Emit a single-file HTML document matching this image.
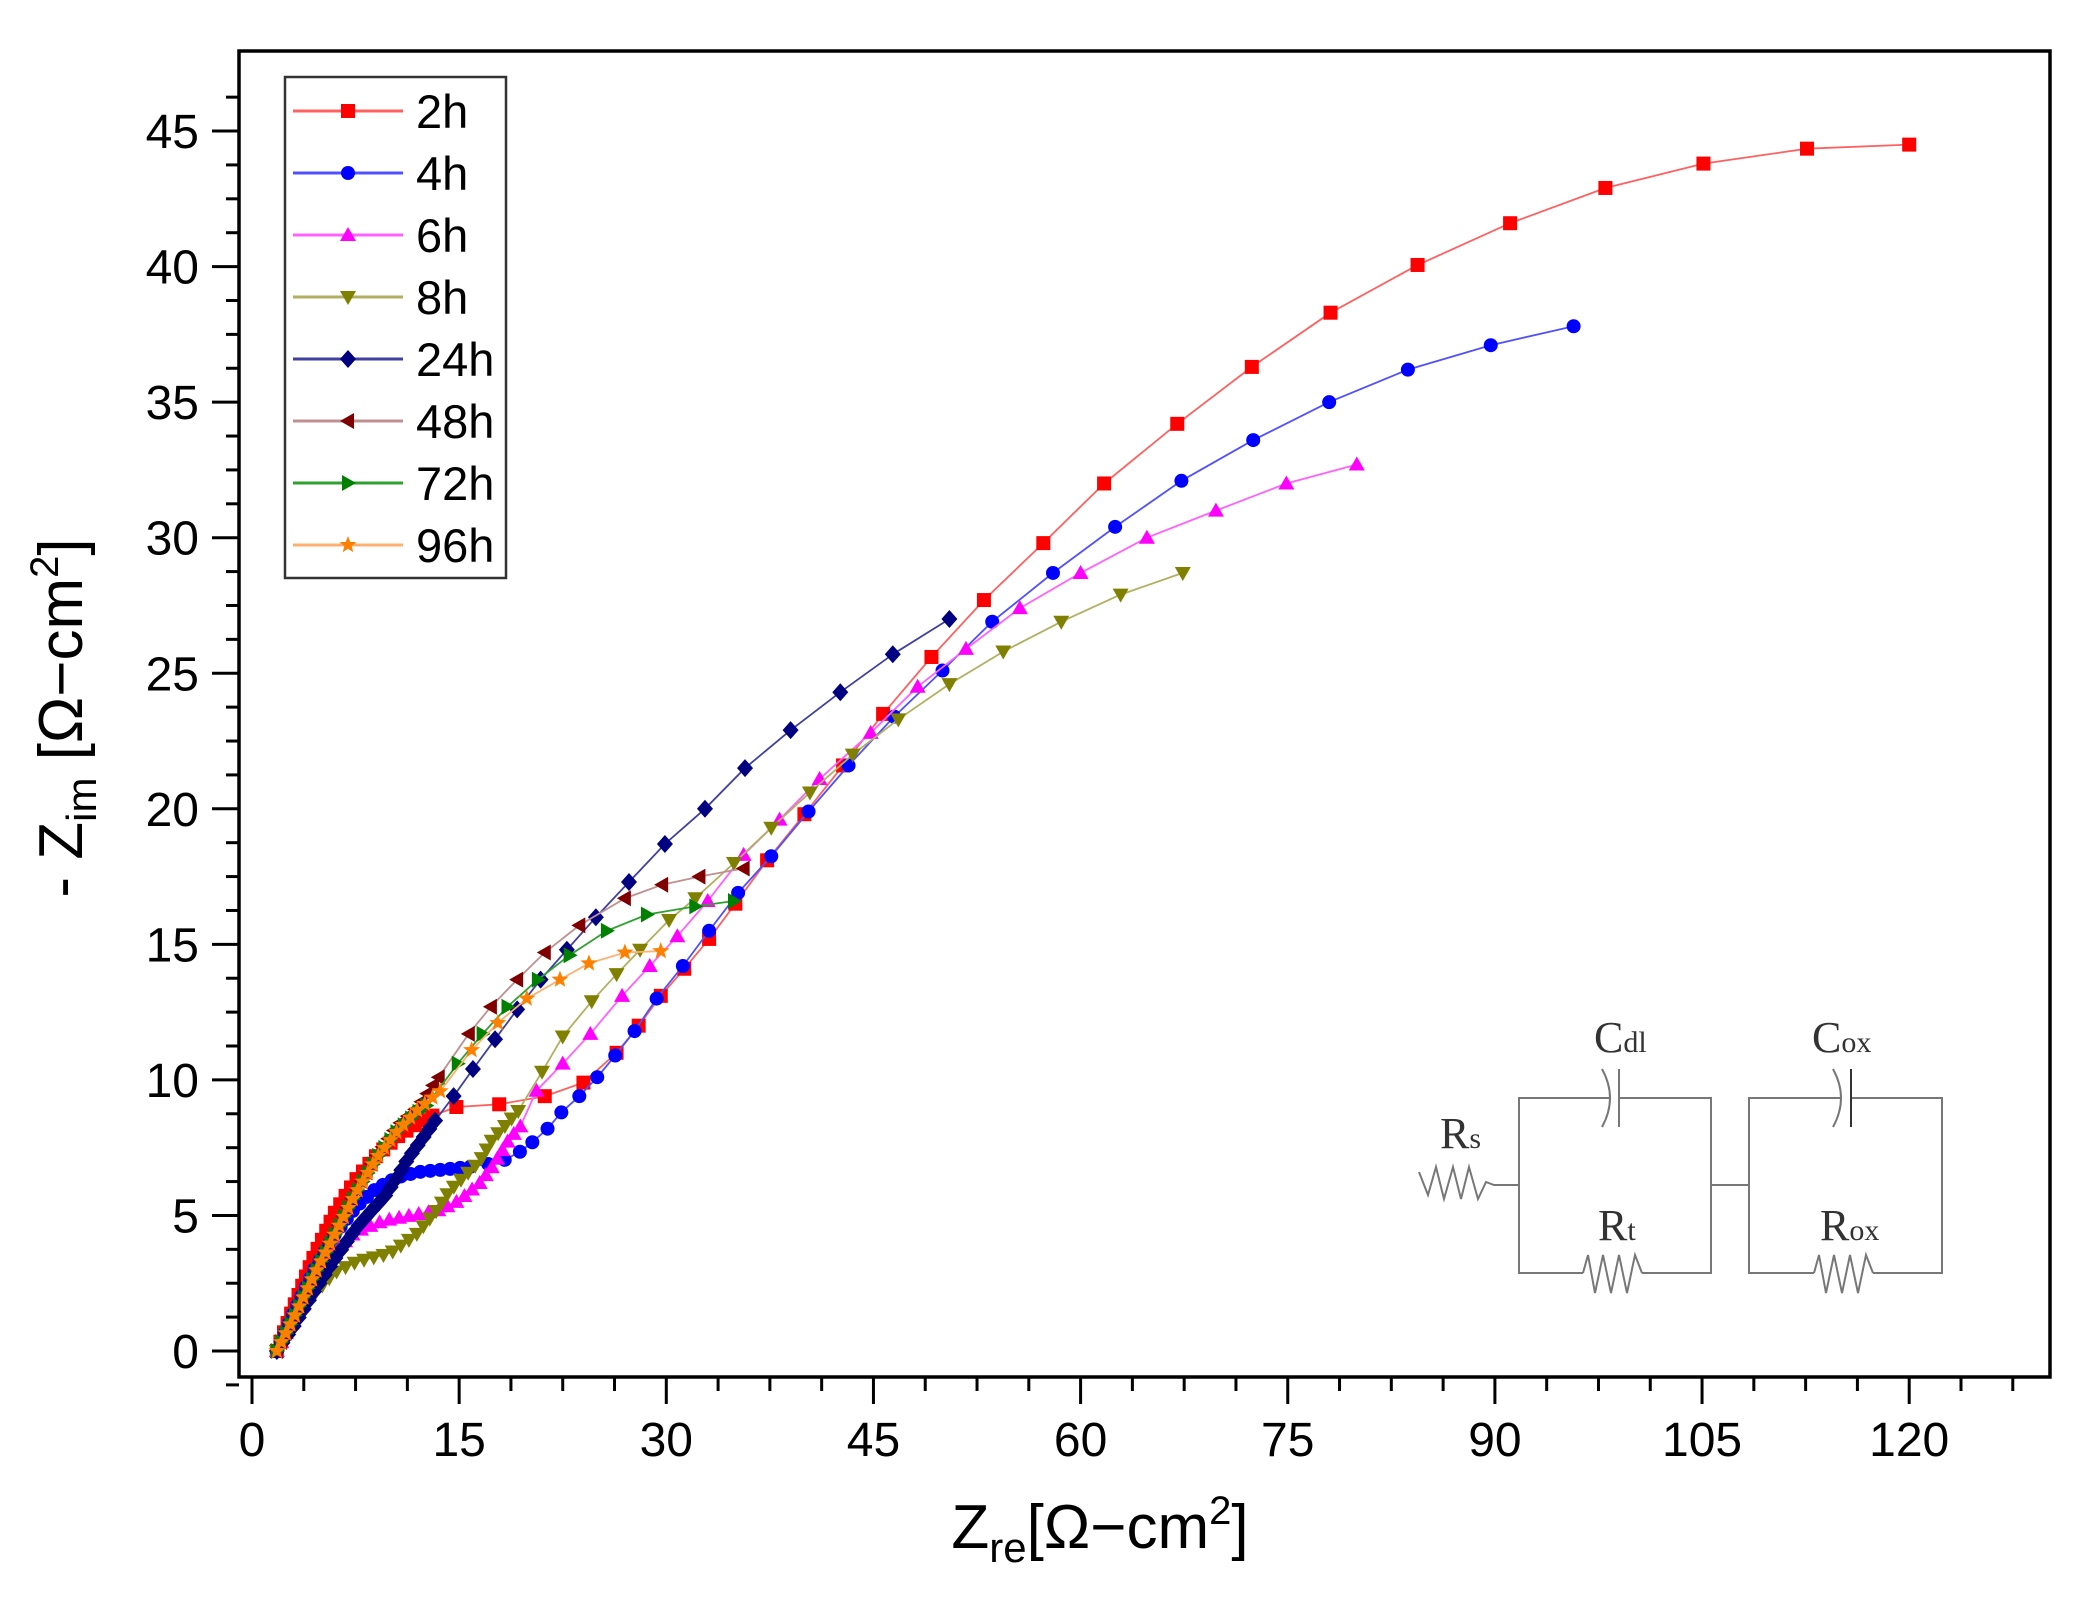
<!DOCTYPE html>
<html><head><meta charset="utf-8"><style>
html,body{margin:0;padding:0;background:#fff;}
svg{display:block;}
text{font-family:"Liberation Sans",sans-serif;}
text.sf{font-family:"Liberation Serif",serif;}
</style></head><body>
<svg id="s" width="2095" height="1610" viewBox="0 0 2095 1610" xmlns="http://www.w3.org/2000/svg">
<rect x="0" y="0" width="2095" height="1610" fill="#fff"/>
<rect x="239" y="51" width="1811" height="1326" fill="none" stroke="#000" stroke-width="3.5"/>
<g id="axes"></g>
<g id="data"></g>
<!-- legend -->
<rect x="285" y="77" width="221" height="501" fill="#fff" stroke="#333" stroke-width="2.5"/>
<g id="leg"></g>
<!-- axis titles -->
<text x="0" y="0" font-size="62" transform="translate(82,718) rotate(-90)" text-anchor="middle">- Z<tspan font-size="42" dy="14">im</tspan><tspan dy="-14"> [Ω−cm</tspan><tspan font-size="40" dy="-24">2</tspan><tspan dy="24">]</tspan></text>
<text x="1100" y="1548" font-size="62" text-anchor="middle">Z<tspan font-size="42" dy="14">re</tspan><tspan dy="-14">[Ω−cm</tspan><tspan font-size="40" dy="-24">2</tspan><tspan dy="24">]</tspan></text>
<!-- circuit -->
<g stroke="#777" stroke-width="2" fill="none">
<polyline points="1419,1172 1428,1195 1436,1167 1444,1199 1453,1167 1461,1199 1469,1167 1478,1199 1486,1182 1494,1185 1519,1185"/>
<polyline points="1609,1098 1519,1098 1519,1273 1583,1273"/>
<polyline points="1619,1098 1711,1098 1711,1273 1642,1273"/>
<polyline points="1583,1273 1588,1255 1595,1293 1603,1255 1611,1293 1619,1255 1627,1293 1635,1255 1642,1273"/>
<path d="M1602,1069 Q1618,1098 1602,1127"/>
<line x1="1619" y1="1069" x2="1619" y2="1127"/>
<line x1="1711" y1="1185" x2="1749" y2="1185"/>
<polyline points="1840,1098 1749,1098 1749,1273 1814,1273"/>
<polyline points="1851,1098 1942,1098 1942,1273 1873,1273"/>
<polyline points="1814,1273 1819,1255 1826,1293 1834,1255 1842,1293 1850,1255 1858,1293 1866,1255 1873,1273"/>
<path d="M1833,1069 Q1849,1098 1833,1127"/>
<line x1="1851" y1="1069" x2="1851" y2="1127" stroke="#333"/>
</g>
<g fill="#333" font-size="44">
<text class="sf" x="1440" y="1148">R<tspan font-size="30">s</tspan></text>
<text class="sf" x="1594" y="1052">C<tspan font-size="30">dl</tspan></text>
<text class="sf" x="1598" y="1240">R<tspan font-size="30">t</tspan></text>
<text class="sf" x="1812" y="1052">C<tspan font-size="30">ox</tspan></text>
<text class="sf" x="1820" y="1240">R<tspan font-size="30">ox</tspan></text>
</g>
</svg>
<script>
var NS="http://www.w3.org/2000/svg";
function X(v){return 252+v*13.81;} function Y(v){return 1351-v*27.11;}
function el(p,t,a,txt){var e=document.createElementNS(NS,t);for(var k in a)e.setAttribute(k,a[k]);if(txt!==undefined)e.textContent=txt;p.appendChild(e);return e;}
var ax=document.getElementById('axes');
for(var i=0;i<=34;i++){var v=i*3.75;var x=X(v);if(x>2050)break;var maj=(i%4==0);
 el(ax,'line',{x1:x,y1:1377,x2:x,y2:maj?1404:1391,stroke:'#000','stroke-width':3});
 if(maj)el(ax,'text',{x:x,y:1456,'font-size':48,'text-anchor':'middle'},String(v));}
for(var i=0;i<=38;i++){var v=-1.25+i*1.25;var y=Y(v);if(y<55)break;var maj=(Math.abs(v%5)<1e-6);
 el(ax,'line',{x1:maj?212:226,y1:y,x2:239,y2:y,stroke:'#000','stroke-width':3});
 if(maj)el(ax,'text',{x:199,y:y+17,'font-size':48,'text-anchor':'end'},String(v));}
var S=[
{n:'2h',c:'#ff0000',l:'#ff6060',m:'sq',d:[[1.8,0],[3,1.6],[4.5,3.5],[6,5.1],[7.5,6.3],[9,7.2],[10.5,7.9],[12,8.4],[13.5,8.8]],s:[[14.8,9],[17.9,9.1],[21.2,9.4],[24,9.9],[26.4,11],[28,12],[29.6,13.1],[31.3,14.1],[33.1,15.2],[35,16.5],[37.3,18.1],[40,19.8],[42.8,21.6],[45.7,23.5],[49.2,25.6],[53,27.7],[57.3,29.8],[61.7,32],[67,34.2],[72.4,36.3],[78.1,38.3],[84.4,40.06],[91.1,41.6],[98,42.9],[105.1,43.8],[112.6,44.35],[120,44.5]]},
{n:'4h',c:'#0000ff',l:'#5050ff',m:'ci',d:[[1.8,0],[3,1.4],[4.5,3],[6,4.3],[7.5,5.3],[9,6],[10.5,6.4],[12,6.6],[14,6.7],[16,6.8]],s:[[17.1,6.9],[18.3,7.05],[19.4,7.35],[20.3,7.7],[21.4,8.2],[22.4,8.8],[23.7,9.4],[25,10.1],[26.3,10.9],[27.7,11.8],[29.3,13],[31.2,14.2],[33.1,15.5],[35.2,16.9],[37.6,18.25],[40.3,19.9],[43.2,21.6],[46.5,23.4],[50,25.1],[53.6,26.9],[58,28.7],[62.5,30.4],[67.3,32.1],[72.5,33.6],[78,35],[83.7,36.2],[89.7,37.1],[95.7,37.8]]},
{n:'6h',c:'#ff00ff',l:'#ff60ff',m:'tu',d:[[1.8,0],[3,1.2],[4.5,2.6],[6,3.7],[7.5,4.4],[9.5,4.8],[11.5,5],[13.6,5.2],[15,5.55],[16.5,6.2],[17.4,6.8],[18.6,7.8],[19.8,8.5]],s:[[20.6,9.6],[22.5,10.6],[24.5,11.7],[26.8,13.1],[28.8,14.2],[30.8,15.3],[33,16.6],[35.6,18.3],[38.2,19.6],[41.1,21.1],[44.8,22.8],[48.2,24.5],[51.7,25.9],[55.6,27.4],[60,28.7],[64.8,30],[69.8,31],[74.9,32],[80,32.7]]},
{n:'8h',c:'#808000',l:'#b0b060',m:'td',d:[[1.8,0],[3,1],[4.5,2.1],[6,2.9],[7.6,3.3],[10,3.6],[11.9,4.3],[13.4,5.2],[14.3,5.9],[15.5,6.5],[16.5,7],[17.4,7.8],[18.5,8.4],[19.7,9.1]],s:[[21,10.3],[22.5,11.6],[24.6,12.9],[26.4,13.9],[28.1,14.8],[30.2,15.9],[32.1,16.7],[34.9,18],[37.6,19.3],[40.4,20.6],[43.5,22],[46.8,23.3],[50.5,24.6],[54.4,25.8],[58.6,26.9],[62.9,27.9],[67.4,28.7]]},
{n:'24h',c:'#000080',l:'#4040a0',m:'di',d:[[1.8,0],[3,0.9],[4.5,2.2],[6,3.4],[7.5,4.5],[8.7,5.2],[9.6,5.7],[10.5,6.4],[11.3,7.1],[12.3,7.8],[13.4,8.6]],s:[[14.6,9.4],[16,10.4],[17.6,11.5],[19.2,12.6],[20.9,13.7],[22.8,14.8],[24.9,16],[27.3,17.3],[29.9,18.7],[32.8,20],[35.7,21.5],[39,22.9],[42.6,24.3],[46.4,25.7],[50.5,27]]},
{n:'48h',c:'#800000',l:'#c09090',m:'tl',d:[[1.8,0],[3,1.3],[4.5,2.9],[6,4.4],[7.5,5.9],[9,7.2],[10.5,8.3],[12,9],[13.8,10.3]],s:[[15.7,11.7],[17.3,12.7],[19.2,13.7],[21.2,14.7],[23.7,15.7],[27,16.7],[29.7,17.2],[32.4,17.5],[35.6,17.8]]},
{n:'72h',c:'#008000',l:'#30a030',m:'tr',d:[[1.8,0],[3,1.2],[4.5,2.8],[6,4.3],[7.5,5.8],[9,7.1],[10.5,8.1],[12,8.8],[13,9.2]],s:[[14.9,10.6],[16.7,11.7],[18.5,12.7],[20.7,13.7],[23,14.6],[25.7,15.5],[28.6,16.1],[32.1,16.4],[34.9,16.6]]},
{n:'96h',c:'#ff8000',l:'#ffb070',m:'st',d:[[1.8,0],[3,1.2],[4.5,2.8],[6,4.3],[7.5,5.8],[9,7.1],[10.5,8.1],[12,8.9],[13.9,9.7]],s:[[15.9,11.1],[17.8,12.1],[19.9,13],[22.3,13.7],[24.4,14.3],[27,14.7],[29.6,14.75]]}
];
function marker(g,m,x,y,c){var r=7;
 if(m=='sq')el(g,'rect',{x:x-r,y:y-r,width:2*r,height:2*r,fill:c});
 else if(m=='ci')el(g,'circle',{cx:x,cy:y,r:r,fill:c});
 else if(m=='tu')el(g,'polygon',{points:[x,y-8,x+8,y+6,x-8,y+6].join(' '),fill:c});
 else if(m=='td')el(g,'polygon',{points:[x,y+8,x+8,y-6,x-8,y-6].join(' '),fill:c});
 else if(m=='tl')el(g,'polygon',{points:[x-8,y,x+6,y-8,x+6,y+8].join(' '),fill:c});
 else if(m=='tr')el(g,'polygon',{points:[x+8,y,x-6,y-8,x-6,y+8].join(' '),fill:c});
 else if(m=='di')el(g,'polygon',{points:[x,y-9,x+8,y,x,y+9,x-8,y].join(' '),fill:c});
 else if(m=='st'){var p=[];for(var k=0;k<10;k++){var a=-Math.PI/2+k*Math.PI/5;var rr=k%2?3.8:9;p.push(x+rr*Math.cos(a),y+rr*Math.sin(a));}el(g,'polygon',{points:p.join(' '),fill:c});}
}
var dg=document.getElementById('data');
S.forEach(function(s){
 var pts=[];var d=s.d.map(function(p){return [X(p[0]),Y(p[1])];});
 pts.push(d[0]);var acc=0,step=10;
 for(var i=1;i<d.length;i++){var a=d[i-1],b=d[i];var L=Math.hypot(b[0]-a[0],b[1]-a[1]);var t=step-acc;
  while(t<=L){pts.push([a[0]+(b[0]-a[0])*t/L,a[1]+(b[1]-a[1])*t/L]);t+=step;}acc=L-(t-step);}
 s.s.forEach(function(p){pts.push([X(p[0]),Y(p[1])]);});
 el(dg,'polyline',{points:pts.map(function(p){return p[0].toFixed(1)+','+p[1].toFixed(1);}).join(' '),fill:'none',stroke:s.l,'stroke-width':1.8});
 pts.forEach(function(p){marker(dg,s.m,p[0],p[1],s.c);});
});
var lg=document.getElementById('leg');
S.forEach(function(s,i){var y=111+i*62;
 el(lg,'line',{x1:293,y1:y,x2:403,y2:y,stroke:s.l,'stroke-width':3});
 marker(lg,s.m,348,y,s.c);
 el(lg,'text',{x:416,y:y+17,'font-size':47},s.n);});
</script>
</body></html>
